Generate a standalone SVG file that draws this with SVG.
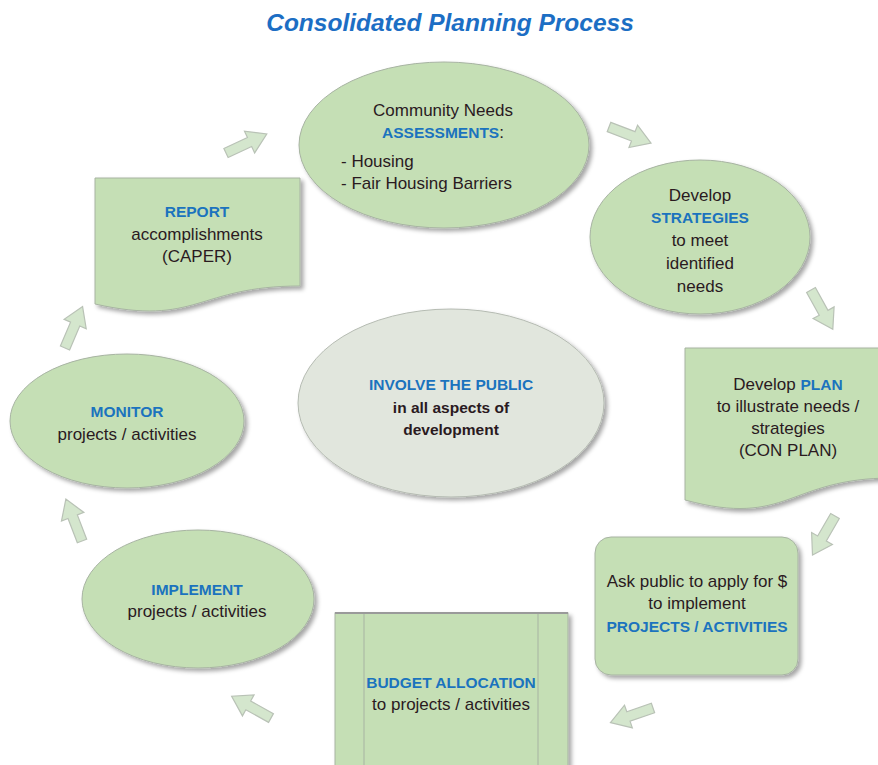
<svg xmlns="http://www.w3.org/2000/svg" width="878" height="765" viewBox="0 0 878 765">
<style>
  .shape { fill: #C5DFB5; stroke: #A7B3A2; stroke-width: 1; filter: url(#sh); }
  .center { fill: #E1E6DD; stroke: #B5BBB2; stroke-width: 1; filter: url(#sh); }
  .arrow { fill: #D4E6CD; stroke: #B9C2B6; stroke-width: 1.2; }
  text { font-family: "Liberation Sans", Arial, sans-serif; fill: #2A1A1F; font-size: 17px; text-anchor: middle; }
  .b { font-weight: bold; fill: #1B73BE; font-size: 15.5px; }
  .d { font-weight: bold; fill: #2A1A1F; font-size: 15.5px; }
  .title { font-size: 24.5px; font-weight: bold; font-style: italic; fill: #1C6EC4; }
</style>
<defs>
  <filter id="sh" x="-10%" y="-10%" width="125%" height="130%">
    <feDropShadow dx="3" dy="3" stdDeviation="2.2" flood-color="#000" flood-opacity="0.35"/>
  </filter>
  <path id="arr" d="M0,-5 L26,-5 L26,-12 L45,0 L26,12 L26,5 L0,5 Z"/>
</defs>
<rect width="878" height="765" fill="#FFFFFF"/>
<text class="title" x="450" y="31">Consolidated Planning Process</text>

<g id="connectors">
  <use href="#arr" class="arrow" transform="translate(226,153) rotate(-25)"/>
  <use href="#arr" class="arrow" transform="translate(609,127) rotate(21)"/>
  <use href="#arr" class="arrow" transform="translate(811,290) rotate(61)"/>
  <use href="#arr" class="arrow" transform="translate(835,516) rotate(120)"/>
  <use href="#arr" class="arrow" transform="translate(653,708) rotate(161)"/>
  <use href="#arr" class="arrow" transform="translate(271,718) rotate(209)"/>
  <use href="#arr" class="arrow" transform="translate(82,541) rotate(-111)"/>
  <use href="#arr" class="arrow" transform="translate(65,348) rotate(-67)"/>
</g>

<g id="center">
  <ellipse class="center" cx="451" cy="403" rx="153" ry="94"/>
  <text class="b" x="451" y="390">INVOLVE THE PUBLIC</text>
  <text class="d" x="451" y="413">in all aspects of</text>
  <text class="d" x="451" y="435">development</text>
</g>

<g id="assessments">
  <ellipse class="shape" cx="444" cy="145" rx="145" ry="83"/>
  <text x="443" y="116">Community Needs</text>
  <text x="443" y="138"><tspan class="b">ASSESSMENTS</tspan>:</text>
  <text x="341" y="167" style="text-anchor:start">- Housing</text>
  <text x="341" y="189" style="text-anchor:start">- Fair Housing Barriers</text>
</g>

<g id="strategies">
  <ellipse class="shape" cx="700" cy="237" rx="110" ry="77"/>
  <text x="700" y="201">Develop</text>
  <text class="b" x="700" y="223">STRATEGIES</text>
  <text x="700" y="246">to meet</text>
  <text x="700" y="269">identified</text>
  <text x="700" y="292">needs</text>
</g>

<g id="plan">
  <path class="shape" d="M685,348 L892,348 L892,478 C788,478 788,528 685,500 Z"/>
  <text x="788" y="390">Develop <tspan class="b">PLAN</tspan></text>
  <text x="788" y="412">to illustrate needs /</text>
  <text x="788" y="434">strategies</text>
  <text x="788" y="456">(CON PLAN)</text>
</g>

<g id="ask">
  <rect class="shape" x="595" y="537" width="203" height="138" rx="16"/>
  <text x="697" y="587">Ask public to apply for $</text>
  <text x="697" y="609">to implement</text>
  <text class="b" x="697" y="632">PROJECTS / ACTIVITIES</text>
</g>

<g id="budget">
  <rect class="shape" x="335" y="613" width="233" height="170"/>
  <line x1="364" y1="614" x2="364" y2="765" stroke="#A7B3A2" stroke-width="1"/>
  <line x1="538" y1="614" x2="538" y2="765" stroke="#A7B3A2" stroke-width="1"/>
  <line x1="335" y1="613" x2="568" y2="613" stroke="#9A9A9A" stroke-width="2"/>
  <text class="b" x="451" y="688">BUDGET ALLOCATION</text>
  <text x="451" y="710">to projects / activities</text>
</g>

<g id="implement">
  <ellipse class="shape" cx="198" cy="599" rx="116" ry="69"/>
  <text class="b" x="197" y="595">IMPLEMENT</text>
  <text x="197" y="617">projects / activities</text>
</g>

<g id="monitor">
  <ellipse class="shape" cx="127" cy="421" rx="117" ry="67"/>
  <text class="b" x="127" y="417">MONITOR</text>
  <text x="127" y="440">projects / activities</text>
</g>

<g id="report">
  <path class="shape" d="M95,178 L300,178 L300,286 C197,286 197,327 95,304 Z"/>
  <text class="b" x="197" y="217">REPORT</text>
  <text x="197" y="240">accomplishments</text>
  <text x="197" y="262">(CAPER)</text>
</g>
</svg>
